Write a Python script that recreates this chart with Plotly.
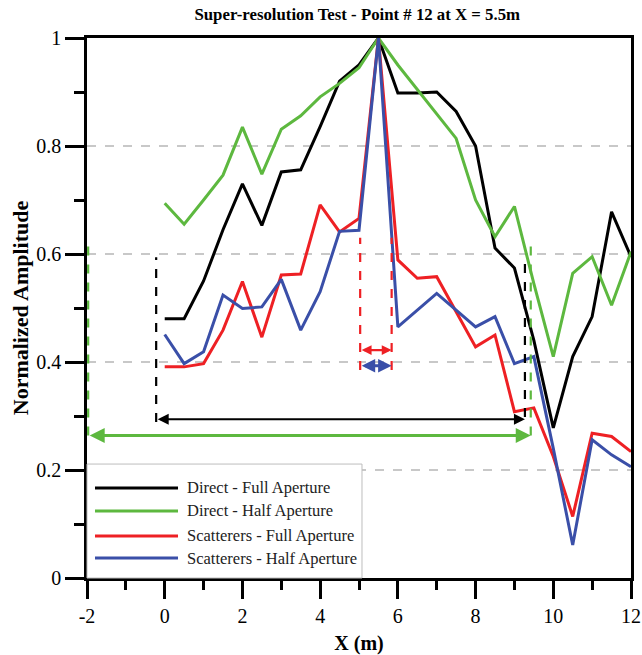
import plotly.graph_objects as go

# ---------------- data ----------------
x_pos = [0, 0.5, 1, 1.5, 2, 2.5, 3, 3.5, 4, 4.5, 5, 5.5, 6, 6.5, 7, 7.5, 8, 8.5,
         9, 9.5, 10, 10.5, 11, 11.5, 12]

direct_full = [0.48, 0.48, 0.55, 0.645, 0.73, 0.653, 0.752, 0.756, 0.836, 0.92, 0.95, 1.0,
               0.898, 0.898, 0.90, 0.864, 0.80, 0.611, 0.574, 0.44, 0.278, 0.41, 0.484,
               0.678, 0.595]
direct_half = [0.694, 0.655, 0.70, 0.746, 0.835, 0.748, 0.831, 0.856, 0.891, 0.916, 0.945, 1.0,
               0.95, 0.905, 0.86, 0.814, 0.70, 0.632, 0.688, 0.545, 0.41, 0.564, 0.595,
               0.505, 0.604]
scat_full = [0.391, 0.391, 0.397, 0.459, 0.549, 0.446, 0.561, 0.563, 0.691, 0.641, 0.666, 1.0,
             0.589, 0.555, 0.558, 0.493, 0.428, 0.45, 0.308, 0.315, 0.225, 0.114, 0.268,
             0.262, 0.234]
scat_half = [0.451, 0.397, 0.419, 0.524, 0.499, 0.502, 0.553, 0.459, 0.530, 0.642, 0.644, 1.0,
             0.465, 0.496, 0.527, 0.496, 0.465, 0.484, 0.397, 0.41, 0.24, 0.061, 0.256,
             0.228, 0.206]

series_names = ["Direct - Full Aperture", "Direct - Half Aperture",
                "Scatterers - Full Aperture", "Scatterers - Half Aperture"]
series_values = [direct_full, direct_half, scat_full, scat_half]

x_tickvals = [-2, 0, 2, 4, 6, 8, 10, 12]
x_ticktext = ["-2", "0", "2", "4", "6", "8", "10", "12"]
y_tickvals = [0, 0.2, 0.4, 0.6, 0.8, 1]
y_ticktext = ["0", "0.2", "0.4", "0.6", "0.8", "1"]

# resolution markers (x extent of each width)
black_span = [-0.22, 9.27]
green_span = [-1.97, 9.42]
red_span = [5.03, 5.84]

# ---------------- style ----------------
FONT = "Liberation Serif"
colors = ["#000000", "#5DB83F", "#EE2024", "#3A4FA8"]

fig = go.Figure()
for name, vals, col in zip(series_names, series_values, colors):
    fig.add_trace(go.Scatter(x=x_pos, y=vals, mode="lines", name=name,
                             line=dict(color=col, width=3), showlegend=False))

# dashed vertical markers
def vline(x, y0, y1, col, w=2.2):
    fig.add_shape(type="line", xref="x", yref="y", x0=x, x1=x, y0=y0, y1=y1,
                  line=dict(color=col, width=w, dash="dash"))

vline(black_span[0], 0.289, 0.594, "#000000")
vline(black_span[1], 0.298, 0.594, "#000000")
vline(green_span[0], 0.264, 0.62, colors[1])
vline(green_span[1], 0.264, 0.62, colors[1])
vline(red_span[0], 0.385, 0.63, colors[2])
vline(red_span[1], 0.385, 0.63, colors[2])

def harrow(xa, xb, y, col, w, head=2, size=1.0):
    fig.add_annotation(x=xb, y=y, ax=xa, ay=y, xref="x", yref="y", axref="x", ayref="y",
                       text="", showarrow=True, arrowhead=head, startarrowhead=head,
                       arrowside="end+start", arrowwidth=w, arrowsize=size,
                       startarrowsize=size, arrowcolor=col)

harrow(black_span[0], black_span[1], 0.294, "#000000", 2.2)
harrow(green_span[0], green_span[1], 0.264, colors[1], 3)
harrow(red_span[0], red_span[1], 0.422, colors[2], 2.2, size=0.9)
harrow(red_span[0], red_span[1], 0.393, colors[3], 3, size=0.9)

# manual legend (box, samples, labels)
fig.add_shape(type="rect", xref="paper", yref="paper", x0=0.0, x1=0.5055, y0=0.0, y1=0.211,
              line=dict(color="#bdbdbd", width=1), fillcolor="white", layer="above")
row_y = [0.1667, 0.1241, 0.0778, 0.037]
for name, col, ry in zip(series_names, colors, row_y):
    fig.add_shape(type="line", xref="paper", yref="paper", x0=0.0147, x1=0.1673, y0=ry, y1=ry,
                  line=dict(color=col, width=3), layer="above")
    fig.add_annotation(x=0.180, y=ry, xref="paper", yref="paper", text=name, showarrow=False,
                       xanchor="left", yanchor="middle",
                       font=dict(family=FONT, size=16.5, color="#222222"))

axis_common = dict(showline=True, linecolor="black", linewidth=2.5, mirror=True,
                   ticks="outside", tickcolor="black", tickwidth=2.5, automargin=False,
                   tickfont=dict(family=FONT, size=20, color="black"), zeroline=False)

fig.update_layout(
    width=642, height=655,
    margin=dict(l=87, r=11, t=38, b=77),
    paper_bgcolor="white", plot_bgcolor="white",
    title=dict(text="<b>Super-resolution Test - Point # 12 at X = 5.5m</b>",
               x=0.5565, xanchor="center", y=0.978, yanchor="middle",
               font=dict(family=FONT, size=16.8, color="black")),
    xaxis=dict(range=[-2, 12], tickvals=x_tickvals, ticktext=x_ticktext, ticklen=18,
               showgrid=False,
               minor=dict(tickvals=[-1, 1, 3, 5, 7, 9, 11], ticklen=9, tickwidth=2.5,
                          tickcolor="black", ticks="outside", showgrid=False),
               title=dict(text="<b>X (m)</b>", standoff=18,
                          font=dict(family=FONT, size=20, color="black")),
               **axis_common),
    yaxis=dict(range=[0, 1], tickvals=y_tickvals, ticktext=y_ticktext, ticklen=19,
               showgrid=True, gridcolor="#c8c8c8", gridwidth=1.5, griddash="dash",
               minor=dict(tickvals=[0.1, 0.3, 0.5, 0.7, 0.9], ticklen=10, tickwidth=2.5,
                          tickcolor="black", ticks="outside", showgrid=False),
               title=dict(text="<b>Normalized Amplitude</b>", standoff=2,
                          font=dict(family=FONT, size=22, color="black")),
               **axis_common),
)

fig.write_html("out.html")
